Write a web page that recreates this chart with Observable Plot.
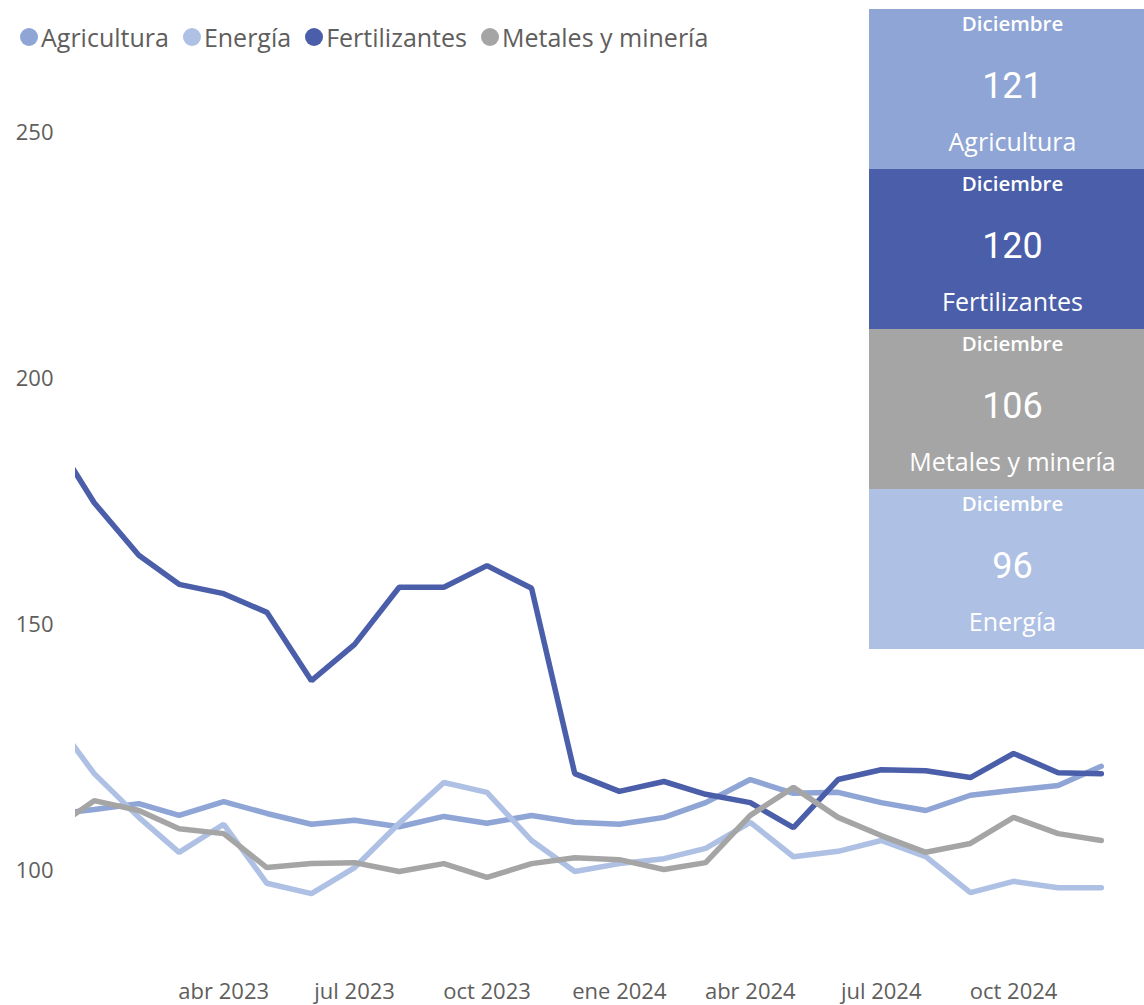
<!DOCTYPE html>
<html>
<head>
<meta charset="utf-8">
<script src="https://cdn.jsdelivr.net/npm/d3@7"></script>
<script src="https://cdn.jsdelivr.net/npm/@observablehq/plot@0.6"></script>
<style>
  body { margin: 0; background: #fff; font-family: "Segoe UI", "Open Sans", sans-serif; }
  #wrap { position: relative; width: 1144px; height: 1005px; overflow: hidden; background: #fff; }
  #legend { height: 60px; box-sizing: border-box; padding-top: 14px; padding-left: 20px; display: flex; align-items: center; font-size: 25px; color: #605E5C; }
  .item { display: flex; align-items: center; margin-right: 14px; white-space: nowrap; }
  .sw { width: 18px; height: 18px; border-radius: 50%; margin-right: 3px; }
  #chart svg text { font-family: "Segoe UI", "Open Sans", sans-serif; font-size: 22px; fill: #605E5C; }
  .card { position: absolute; left: 869px; width: 275px; height: 160px; color: #fff; }
  .card div { position: absolute; left: 6px; width: 100%; text-align: center; height: 40px; line-height: 40px; white-space: nowrap; }
  .month { top: -6px; font-size: 20.5px; font-weight: 600; font-family: "Open Sans", sans-serif; }
  .val { top: 57px; font-size: 36px; font-family: Roboto, sans-serif; font-weight: 400; }
  .lab { top: 112px; font-size: 25px; font-weight: 400; font-family: "Open Sans", sans-serif; }
</style>
</head>
<body>
<div id="wrap">
  <div id="legend"></div>
  <div id="chart"></div>
</div>
<script>
// ---- data ----
const months = ["2022-12","2023-01","2023-02","2023-03","2023-04","2023-05","2023-06","2023-07","2023-08","2023-09","2023-10","2023-11","2023-12",
                "2024-01","2024-02","2024-03","2024-04","2024-05","2024-06","2024-07","2024-08","2024-09","2024-10","2024-11","2024-12"];
const seriesNames = ["Agricultura", "Energía", "Fertilizantes", "Metales y minería"];
const agricultura   = [111.4,112.4,113.6,111.2,114.0,111.6,109.4,110.2,108.9,111.0,109.6,111.2,109.8,109.4,110.8,113.8,118.5,115.7,115.9,113.8,112.2,115.3,116.3,117.3,121.2];
const energia       = [132.0,119.7,110.8,103.7,109.4,97.4,95.3,100.6,109.6,117.9,115.9,106.1,99.8,101.4,102.4,104.5,109.8,102.8,103.9,106.1,102.8,95.5,97.8,96.5,96.5];
const fertilizantes = [189.3,174.8,164.1,158.2,156.3,152.5,138.6,146.0,157.6,157.6,162.0,157.4,119.7,116.1,118.1,115.5,113.8,108.7,118.5,120.5,120.3,118.9,123.8,119.9,119.7];
const metales       = [107.9,114.2,112.2,108.5,107.5,100.6,101.4,101.6,99.8,101.4,98.6,101.4,102.6,102.2,100.2,101.6,111.2,116.9,110.8,107.1,103.7,105.5,110.8,107.5,106.1];
const yTicks = [100, 150, 200, 250];
const xTickMonths = ["2023-04","2023-07","2023-10","2024-01","2024-04","2024-07","2024-10"];
const xTickLabels = ["abr 2023","jul 2023","oct 2023","ene 2024","abr 2024","jul 2024","oct 2024"];
// KPI cards (latest month)
const kpiMonth = "Diciembre";
const kpiLabels = ["Agricultura", "Fertilizantes", "Metales y minería", "Energía"];
const kpiValues = [121, 120, 106, 96];

// ---- styles ----
const colors = ["#8EA5D5", "#AEC0E4", "#4A5EA9", "#A5A5A5"];
const colorOf = new Map(seriesNames.map((s, i) => [s, colors[i]]));

// ---- build table ----
const valuesBySeries = [agricultura, energia, fertilizantes, metales];
const toDate = m => new Date(m + "-01T00:00:00Z");
const data = [];
seriesNames.forEach((s, k) => months.forEach((m, i) => data.push({date: toDate(m), value: valuesBySeries[k][i], series: s})));
const tickDates = xTickMonths.map(toDate);
const labelByTime = new Map(tickDates.map((d, i) => [+d, xTickLabels[i]]));

// ---- legend ----
const legend = d3.select("#legend");
seriesNames.forEach(s => {
  const it = legend.append("div").attr("class", "item");
  it.append("div").attr("class", "sw").style("background", colorOf.get(s));
  it.append("span").text(s);
});

// ---- chart ----
const chart = Plot.plot({
  width: 1144,
  height: 945,
  marginLeft: 75,
  marginRight: 0,
  marginTop: 23.3,
  marginBottom: 61.25,
  style: {fontFamily: "'Segoe UI','Open Sans',sans-serif", fontSize: "22px", color: "#605E5C", background: "transparent", overflow: "visible"},
  x: {type: "utc", domain: [new Date("2022-12-19T00:00:00Z"), new Date("2024-12-31T00:00:00Z")], ticks: tickDates,
      tickFormat: d => labelByTime.get(+d) ?? "", tickSize: 0, tickPadding: 39, label: null},
  y: {domain: [85, 260], ticks: yTicks, tickSize: 0, tickPadding: 22, label: null},
  color: {domain: seriesNames, range: colors},
  marks: [
    Plot.lineY(data, {x: "date", y: "value", z: "series", stroke: "series", strokeWidth: 5.5, clip: true, strokeLinejoin: "miter"})
  ]
});
document.getElementById("chart").appendChild(chart);

// ---- KPI cards ----
const wrap = d3.select("#wrap");
kpiLabels.forEach((lab, i) => {
  const c = wrap.append("div").attr("class", "card")
    .style("top", (9 + i * 160) + "px")
    .style("background", colorOf.get(lab));
  c.append("div").attr("class", "month").text(kpiMonth);
  c.append("div").attr("class", "val").text(kpiValues[i]);
  c.append("div").attr("class", "lab").text(lab);
});
</script>
</body>
</html>
